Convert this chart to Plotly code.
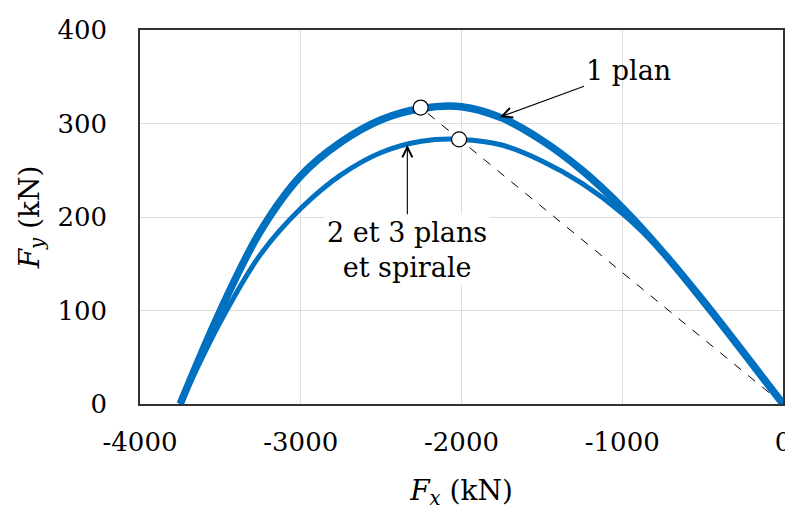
import plotly.graph_objects as go

# 1 plan
fx_1plan = [-3750, -3500, -3250, -3000, -2750, -2500, -2250, -2000,
            -1750, -1500, -1250, -1000, -750, -500, -250, 0]
fy_1plan = [0, 100, 185, 244, 280, 304, 316, 318,
            306, 282, 250, 210, 163, 111, 56, 0]

# 2 et 3 plans et spirale
fx_multi = [-3750, -3500, -3250, -3000, -2750, -2500, -2250, -2000,
            -1750, -1500, -1250, -1000, -750, -500, -250, 0]
fy_multi = [0, 88, 160, 209, 245, 269, 281, 283,
            277, 260, 236, 204, 162, 109, 55, 0]

# marked points and the line through the origin
peak_fx = [-2254, -2015]
peak_fy = [317, 283]
origin = (0, 0)

x_ticks = [-4000, -3000, -2000, -1000, 0]
x_tick_labels = ["-4000", "-3000", "-2000", "-1000", "0"]
y_ticks = [0, 100, 200, 300, 400]
y_tick_labels = ["0", "100", "200", "300", "400"]

FONT = "DejaVu Serif"
BLUE = "#0070C0"

fig = go.Figure()

fig.add_trace(go.Scatter(
    x=[origin[0], peak_fx[0]], y=[origin[1], peak_fy[0]],
    mode="lines", line=dict(color="black", width=1, dash="dash"),
    showlegend=False, hoverinfo="skip",
))
fig.add_trace(go.Scatter(
    x=fx_multi, y=fy_multi, mode="lines",
    line=dict(color=BLUE, width=5, shape="spline", smoothing=1),
    showlegend=False,
))
fig.add_trace(go.Scatter(
    x=fx_1plan, y=fy_1plan, mode="lines",
    line=dict(color=BLUE, width=7.5, shape="spline", smoothing=1),
    showlegend=False,
))
fig.add_trace(go.Scatter(
    x=peak_fx, y=peak_fy, mode="markers",
    marker=dict(size=15, color="white", line=dict(color="black", width=1.2)),
    showlegend=False,
))

annotations = [
    dict(
        x=-1760, y=307, ax=-964, ay=357, xref="x", yref="y", axref="x", ayref="y",
        text="1 plan", showarrow=True, arrowhead=5, arrowsize=1.8, arrowwidth=1.1,
        arrowcolor="black", standoff=0, font=dict(size=27, color="black"),
    ),
    dict(
        x=-2337, y=277, ax=-2337, ay=165, xref="x", yref="y", axref="x", ayref="y",
        text="2 et 3 plans<br>et spirale", showarrow=True, arrowhead=5,
        arrowsize=1.8, arrowwidth=1.1, arrowcolor="black", standoff=0,
        bgcolor="white", borderpad=2, font=dict(size=27, color="black"),
    ),
]

# page body has an 8px margin, so the figure is shrunk by that much
fig.update_layout(
    width=785,
    height=503,
    margin=dict(l=132, r=10, t=22, b=107),
    paper_bgcolor="white",
    plot_bgcolor="white",
    font=dict(family=FONT, size=26, color="black"),
    annotations=annotations,
    xaxis=dict(
        range=[-4000, 0], tickmode="array", tickvals=x_ticks, ticktext=x_tick_labels,
        showgrid=True, gridcolor="#dddddd", gridwidth=1,
        showline=True, linecolor="#333333", linewidth=1.5, mirror=True,
        zeroline=False, ticks="outside", ticklen=14, tickcolor="rgba(0,0,0,0)",
        automargin=False,
        title=dict(text="<i>F</i><sub><i>x</i></sub> (kN)", standoff=24,
                   font=dict(size=28)),
    ),
    yaxis=dict(
        range=[0, 400], tickmode="array", tickvals=y_ticks, ticktext=y_tick_labels,
        showgrid=True, gridcolor="#dddddd", gridwidth=1,
        showline=True, linecolor="#333333", linewidth=1.5, mirror=True,
        zeroline=False, ticks="outside", ticklen=26, tickcolor="rgba(0,0,0,0)",
        automargin=False,
        title=dict(text="<i>F</i><sub><i>y</i></sub> (kN)", standoff=10,
                   font=dict(size=28)),
    ),
)

fig.write_html("out.html")
